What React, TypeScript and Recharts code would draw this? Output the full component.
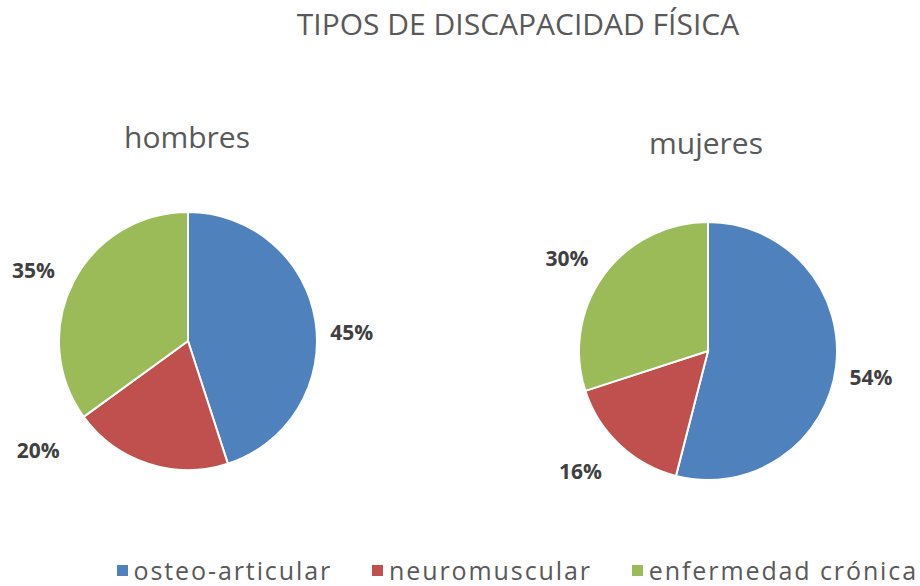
import React from 'react';
import { PieChart, Pie, Cell, Legend } from 'recharts';

const categories = ['osteo-articular', 'neuromuscular', 'enfermedad crónica'];
const hombresValues = [45, 20, 35];
const mujeresValues = [54, 16, 30];
const colors = ['#4F81BD', '#C0504D', '#9BBB59'];
const title = 'TIPOS DE DISCAPACIDAD FÍSICA';
const groupNames = ['hombres', 'mujeres'];

const hombresData = categories.map((name, i) => ({ name, value: hombresValues[i] }));
const mujeresData = categories.map((name, i) => ({ name, value: mujeresValues[i] }));

const FONT = '"Open Sans", "Noto Sans", sans-serif';
const RAD = Math.PI / 180;

const makeLabel = (angleShift: number[], extra: number[]) => (props: any) => {
  const { cx, cy, midAngle, outerRadius, percent, index } = props;
  const ang = midAngle + (angleShift[index] || 0);
  const d = outerRadius + 38 + (extra[index] || 0);
  const x = cx + d * Math.cos(-ang * RAD);
  const y = cy + d * Math.sin(-ang * RAD);
  return (
    <text
      x={x}
      y={y}
      textAnchor="middle"
      dominantBaseline="central"
      fill="#404040"
      fontSize={21}
      fontWeight="bold"
      fontFamily={FONT}
    >
      {`${Math.round(percent * 100)}%`}
    </text>
  );
};

const renderLegend = () => (
  <div
    style={{
      display: 'flex',
      justifyContent: 'flex-end',
      alignItems: 'center',
      fontFamily: FONT,
      fontSize: 25,
      lineHeight: '26px',
      height: 26,
      letterSpacing: 1.9,
      color: '#595959',
      paddingRight: 2,
    }}
  >
    {categories.map((c, i) => (
      <div key={c} style={{ display: 'flex', alignItems: 'center', marginLeft: i === 0 ? 0 : 40 }}>
        <span style={{ display: 'inline-block', width: 11, height: 11, background: colors[i], marginRight: 6 }} />
        <span>{c}</span>
      </div>
    ))}
  </div>
);

export default function App() {
  return (
    <div style={{ position: 'absolute', left: 0, top: 0, width: 920, height: 586, background: '#fff' }}>
      <div
        style={{
          position: 'absolute',
          left: 218,
          width: 600,
          top: 3,
          textAlign: 'center',
          fontFamily: FONT,
          fontSize: 30,
          color: '#595959',
          whiteSpace: 'nowrap',
        }}
      >
        {title}
      </div>
      <div
        style={{
          position: 'absolute',
          left: 87,
          width: 200,
          top: 116,
          textAlign: 'center',
          fontFamily: FONT,
          fontSize: 30,
          color: '#595959',
        }}
      >
        {groupNames[0]}
      </div>
      <div
        style={{
          position: 'absolute',
          left: 606,
          width: 200,
          top: 122,
          textAlign: 'center',
          fontFamily: FONT,
          fontSize: 30,
          color: '#595959',
        }}
      >
        {groupNames[1]}
      </div>
      <PieChart width={920} height={586} margin={{ top: 0, right: 0, bottom: 0, left: 0 }}>
        <Pie
          data={hombresData}
          dataKey="value"
          nameKey="name"
          cx={188}
          cy={341}
          outerRadius={129}
          startAngle={90}
          endAngle={-270}
          stroke="#ffffff"
          strokeWidth={2}
          isAnimationActive={false}
          labelLine={false}
          label={makeLabel([-6, -36, 2.4], [-3, 18, 3])}
        >
          {hombresData.map((d, i) => (
            <Cell key={d.name} fill={colors[i]} />
          ))}
        </Pie>
        <Pie
          data={mujeresData}
          dataKey="value"
          nameKey="name"
          cx={708}
          cy={351}
          outerRadius={129}
          startAngle={90}
          endAngle={-270}
          stroke="#ffffff"
          strokeWidth={2}
          isAnimationActive={false}
          labelLine={false}
          label={makeLabel([-1.9, -3.6, 2.6], [-2, 8, 2])}
        >
          {mujeresData.map((d, i) => (
            <Cell key={d.name} fill={colors[i]} />
          ))}
        </Pie>
        <Legend
          verticalAlign="bottom"
          align="right"
          content={renderLegend}
          wrapperStyle={{ bottom: 3, right: 0, left: 0, width: 920 }}
        />
      </PieChart>
    </div>
  );
}
